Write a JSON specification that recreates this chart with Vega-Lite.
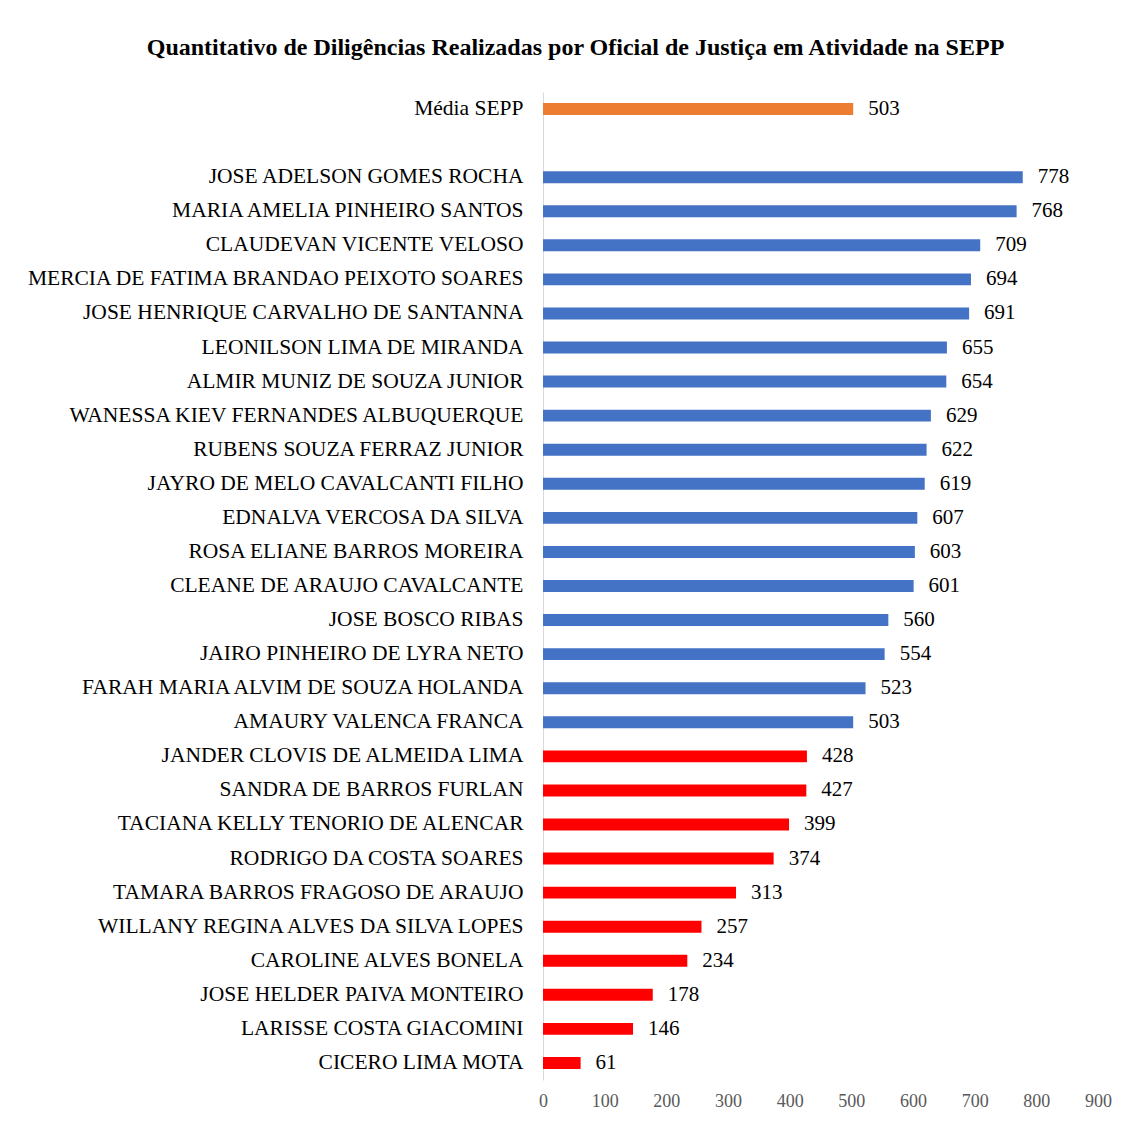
{
  "$schema": "https://vega.github.io/schema/vega-lite/v6.json",
  "autosize": {"type": "none"},
  "padding": {"left": 543, "top": 92, "right": 30, "bottom": 42},
  "width": 555,
  "height": 988,
  "background": "white",
  "config": {"view": {"stroke": null}, "font": "Liberation Serif"},
  "title": {
    "text": "Quantitativo de Diligências Realizadas por Oficial de Justiça em Atividade na SEPP",
    "font": "Liberation Serif",
    "fontSize": 24,
    "fontWeight": "bold",
    "color": "#000000",
    "anchor": "middle",
    "dx": -245,
    "offset": 32
  },
  "data": {
    "values": [
      {"nome": "Média SEPP", "valor": 503, "grupo": "media"},
      {"nome": "JOSE ADELSON GOMES ROCHA", "valor": 778, "grupo": "acima"},
      {"nome": "MARIA AMELIA PINHEIRO SANTOS", "valor": 768, "grupo": "acima"},
      {"nome": "CLAUDEVAN VICENTE VELOSO", "valor": 709, "grupo": "acima"},
      {"nome": "MERCIA DE FATIMA BRANDAO PEIXOTO SOARES", "valor": 694, "grupo": "acima"},
      {"nome": "JOSE HENRIQUE CARVALHO DE SANTANNA", "valor": 691, "grupo": "acima"},
      {"nome": "LEONILSON LIMA DE MIRANDA", "valor": 655, "grupo": "acima"},
      {"nome": "ALMIR MUNIZ DE SOUZA JUNIOR", "valor": 654, "grupo": "acima"},
      {"nome": "WANESSA KIEV FERNANDES ALBUQUERQUE", "valor": 629, "grupo": "acima"},
      {"nome": "RUBENS SOUZA FERRAZ JUNIOR", "valor": 622, "grupo": "acima"},
      {"nome": "JAYRO DE MELO CAVALCANTI FILHO", "valor": 619, "grupo": "acima"},
      {"nome": "EDNALVA VERCOSA DA SILVA", "valor": 607, "grupo": "acima"},
      {"nome": "ROSA ELIANE BARROS MOREIRA", "valor": 603, "grupo": "acima"},
      {"nome": "CLEANE DE ARAUJO CAVALCANTE", "valor": 601, "grupo": "acima"},
      {"nome": "JOSE BOSCO RIBAS", "valor": 560, "grupo": "acima"},
      {"nome": "JAIRO PINHEIRO DE LYRA NETO", "valor": 554, "grupo": "acima"},
      {"nome": "FARAH MARIA ALVIM DE SOUZA HOLANDA", "valor": 523, "grupo": "acima"},
      {"nome": "AMAURY VALENCA FRANCA", "valor": 503, "grupo": "acima"},
      {"nome": "JANDER CLOVIS DE ALMEIDA LIMA", "valor": 428, "grupo": "abaixo"},
      {"nome": "SANDRA DE BARROS FURLAN", "valor": 427, "grupo": "abaixo"},
      {"nome": "TACIANA KELLY TENORIO DE ALENCAR", "valor": 399, "grupo": "abaixo"},
      {"nome": "RODRIGO DA COSTA SOARES", "valor": 374, "grupo": "abaixo"},
      {"nome": "TAMARA BARROS FRAGOSO DE ARAUJO", "valor": 313, "grupo": "abaixo"},
      {"nome": "WILLANY REGINA ALVES DA SILVA LOPES", "valor": 257, "grupo": "abaixo"},
      {"nome": "CAROLINE ALVES BONELA", "valor": 234, "grupo": "abaixo"},
      {"nome": "JOSE HELDER PAIVA MONTEIRO", "valor": 178, "grupo": "abaixo"},
      {"nome": "LARISSE COSTA GIACOMINI", "valor": 146, "grupo": "abaixo"},
      {"nome": "CICERO LIMA MOTA", "valor": 61, "grupo": "abaixo"}
    ]
  },
  "encoding": {
    "y": {
      "field": "nome",
      "type": "nominal",
      "title": null,
      "scale": {
        "domain": ["Média SEPP", " ", "JOSE ADELSON GOMES ROCHA", "MARIA AMELIA PINHEIRO SANTOS", "CLAUDEVAN VICENTE VELOSO", "MERCIA DE FATIMA BRANDAO PEIXOTO SOARES", "JOSE HENRIQUE CARVALHO DE SANTANNA", "LEONILSON LIMA DE MIRANDA", "ALMIR MUNIZ DE SOUZA JUNIOR", "WANESSA KIEV FERNANDES ALBUQUERQUE", "RUBENS SOUZA FERRAZ JUNIOR", "JAYRO DE MELO CAVALCANTI FILHO", "EDNALVA VERCOSA DA SILVA", "ROSA ELIANE BARROS MOREIRA", "CLEANE DE ARAUJO CAVALCANTE", "JOSE BOSCO RIBAS", "JAIRO PINHEIRO DE LYRA NETO", "FARAH MARIA ALVIM DE SOUZA HOLANDA", "AMAURY VALENCA FRANCA", "JANDER CLOVIS DE ALMEIDA LIMA", "SANDRA DE BARROS FURLAN", "TACIANA KELLY TENORIO DE ALENCAR", "RODRIGO DA COSTA SOARES", "TAMARA BARROS FRAGOSO DE ARAUJO", "WILLANY REGINA ALVES DA SILVA LOPES", "CAROLINE ALVES BONELA", "JOSE HELDER PAIVA MONTEIRO", "LARISSE COSTA GIACOMINI", "CICERO LIMA MOTA"],
        "paddingInner": 0.65,
        "paddingOuter": 0.325
      },
      "axis": {
        "ticks": false,
        "domainColor": "#d9d9d9",
        "domainWidth": 1,
        "labelFont": "Liberation Serif",
        "labelFontSize": 21.5,
        "labelColor": "#000000",
        "labelPadding": 20,
        "labelLimit": 600,
        "grid": false
      }
    },
    "x": {
      "field": "valor",
      "type": "quantitative",
      "title": null,
      "scale": {"domain": [0, 900], "nice": false},
      "axis": {
        "values": [0, 100, 200, 300, 400, 500, 600, 700, 800, 900],
        "grid": false,
        "domain": false,
        "ticks": false,
        "labelFlush": false,
        "labelFont": "Liberation Serif",
        "labelFontSize": 18,
        "labelColor": "#595959",
        "labelPadding": 12
      }
    }
  },
  "layer": [
    {
      "mark": {"type": "bar"},
      "encoding": {
        "color": {
          "field": "grupo",
          "type": "nominal",
          "scale": {"domain": ["media", "acima", "abaixo"], "range": ["#ED7D31", "#4472C4", "#FF0000"]},
          "legend": null
        }
      }
    },
    {
      "mark": {"type": "text", "align": "left", "baseline": "middle", "dx": 15, "font": "Liberation Serif", "fontSize": 21, "color": "#000000"},
      "encoding": {"text": {"field": "valor", "type": "quantitative"}}
    }
  ]
}
